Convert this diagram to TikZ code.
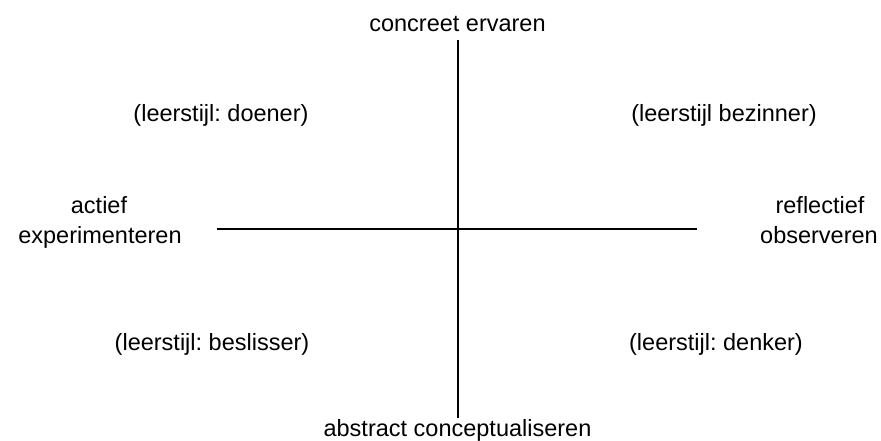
\documentclass[tikz,border=0pt]{standalone}
\usepackage{fontspec}
\setmainfont{Liberation Sans}
\frenchspacing
\begin{document}
\begin{tikzpicture}[x=1pt,y=-1pt,
  lbl/.style={anchor=base,inner sep=0pt,font=\fontsize{23.5}{31}\selectfont},
  axis/.style={line width=2pt}]
\useasboundingbox (0,0) rectangle (881,441);
% axes
\coordinate (top) at (457.5,40);
\coordinate (bottom) at (457.5,418);
\coordinate (left) at (217,229);
\coordinate (right) at (697,229);
\draw[axis] (top) -- (bottom);
\draw[axis] (left) -- (right);
% axis ends
\node[lbl] (ce) at (457.5,32) {concreet ervaren};
\node[lbl] (ac) at (457.5,436) {abstract conceptualiseren};
\node[lbl] (ae1) at (99,213) {actief};
\node[lbl] (ae2) at (100,243) {experimenteren};
\node[lbl] (ro1) at (820,213) {reflectief};
\node[lbl] (ro2) at (819,243) {observeren};
% quadrants
\node[lbl] (doener) at (221,122) {(leerstijl: doener)};
\node[lbl] (bezinner) at (724,122) {(leerstijl bezinner)};
\node[lbl] (beslisser) at (212,350) {(leerstijl: beslisser)};
\node[lbl] (denker) at (716,350) {(leerstijl: denker)};
\end{tikzpicture}
\end{document}
